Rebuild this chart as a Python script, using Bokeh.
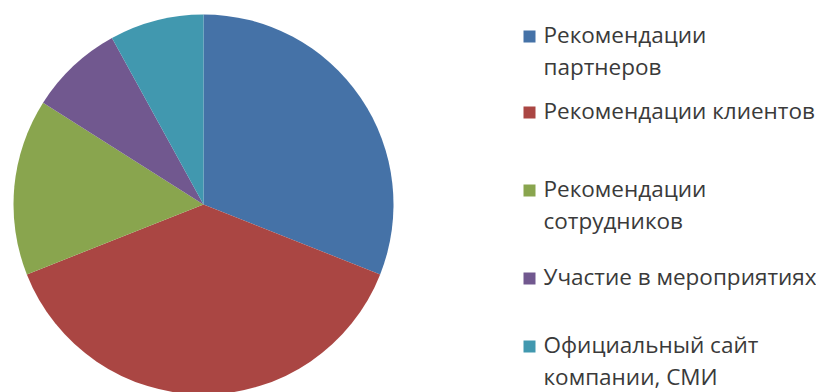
import numpy as np
from bokeh.plotting import figure
from bokeh.models import Range1d, ColumnDataSource
from bokeh.core.properties import value
from bokeh.embed import file_html
from bokeh.resources import INLINE

# ---- data ----
categories = [
    "Рекомендации\nпартнеров",
    "Рекомендации клиентов",
    "Рекомендации\nсотрудников",
    "Участие в мероприятиях",
    "Официальный сайт\nкомпании, СМИ",
]
shares = [31, 38, 15, 8, 8]
colors = ["#4572A7", "#AA4643", "#89A54E", "#71588F", "#4198AF"]

# ---- layout ----
W, H = 816, 392
cx, cy, r = 203, H - 204, 190
legend_top = [36, 112, 190, 278, 346]   # pixel y of first text line centre
sq_x, txt_x = 529, 543
fs = 22.5

vals = np.array(shares, dtype=float)
frac = vals / vals.sum()
cum = np.concatenate([[0], np.cumsum(frac)])
start = np.pi / 2 - 2 * np.pi * cum[:-1]
end = np.pi / 2 - 2 * np.pi * cum[1:]

p = figure(width=W, height=H, output_backend="svg", toolbar_location=None,
           x_range=Range1d(0, W), y_range=Range1d(0, H), min_border=0)
p.axis.visible = False
p.grid.visible = False
p.outline_line_color = None
p.background_fill_color = "white"
p.border_fill_color = "white"

src = ColumnDataSource(dict(start=start, end=end, color=colors))
p.wedge(x=cx, y=cy, radius=r, start_angle="start", end_angle="end",
        direction="clock", fill_color="color", line_color=None, source=src)

ly = [H - v for v in legend_top]
ty = [H - v + 0.6 * fs + 4 for v in legend_top]
lsrc = ColumnDataSource(dict(x=[sq_x] * len(categories), tx=[txt_x] * len(categories),
                             y=ly, ty=ty, label=categories, color=colors))
p.scatter(x="x", y="y", size=12, marker="square", fill_color="color",
          line_color=None, source=lsrc)
p.text(x="tx", y="ty", text="label", source=lsrc, text_font=value("Open Sans"),
       text_font_size=f"{fs}px", text_color="#3a3a3a", text_baseline="top",
       text_line_height=1.03, text_align="left")

open("out.html", "w").write(file_html(p, INLINE))
